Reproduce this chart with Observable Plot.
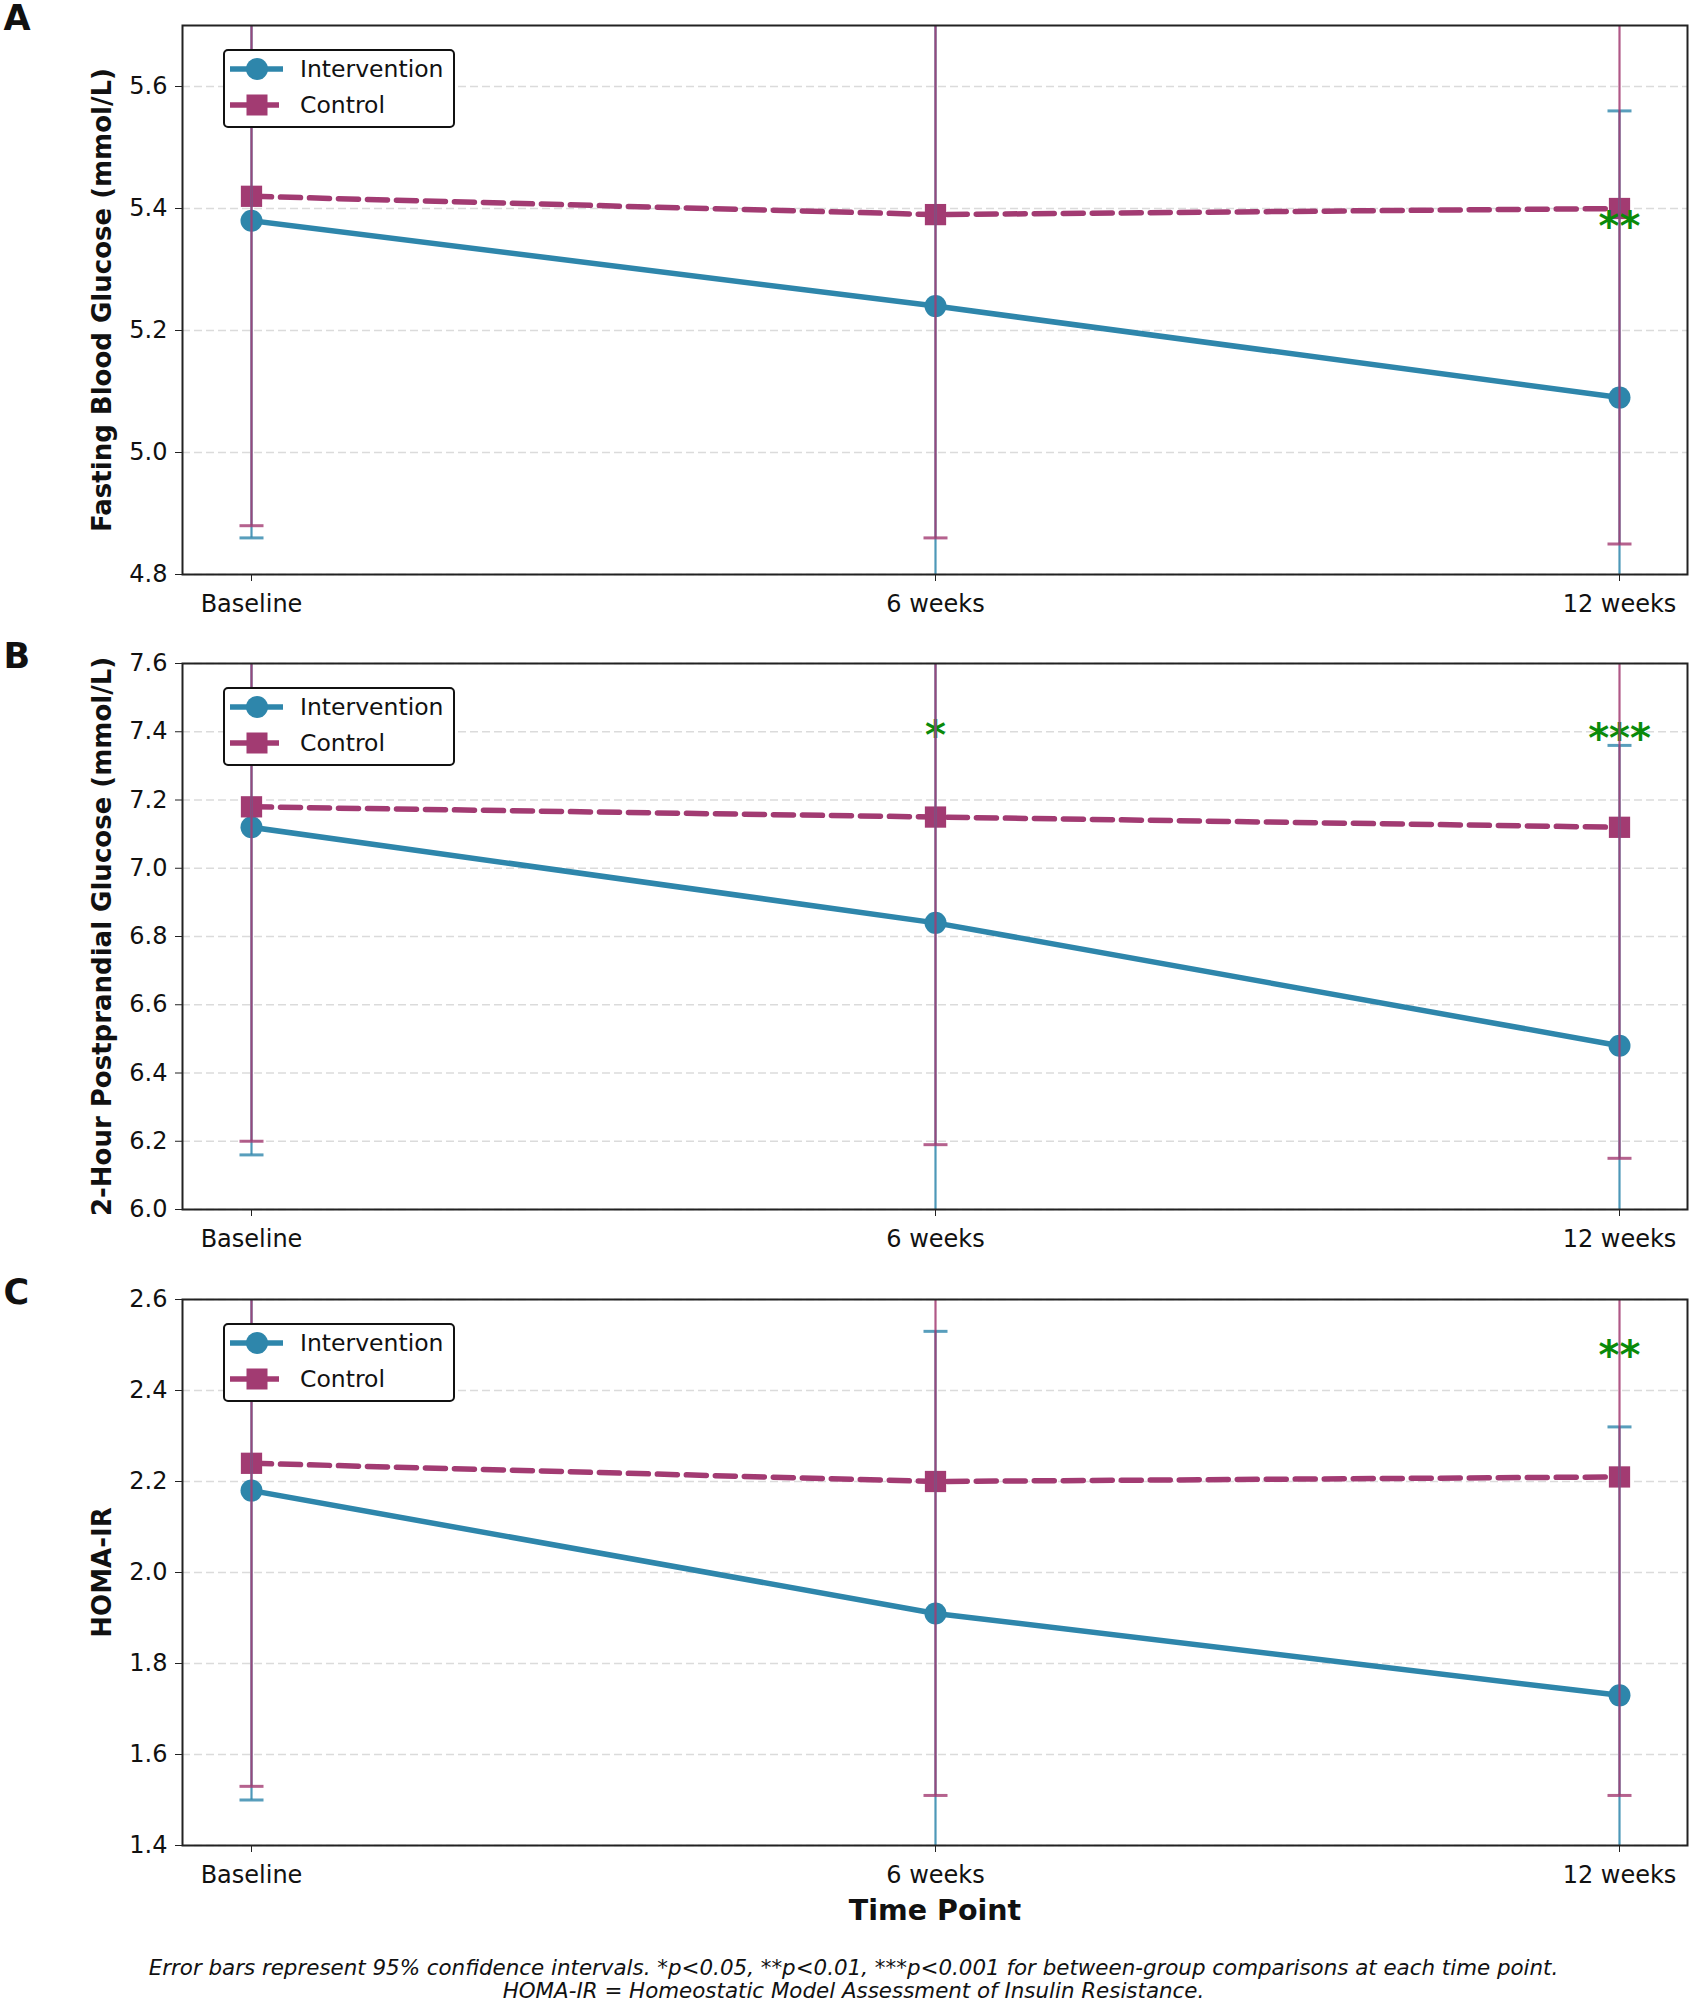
<!DOCTYPE html>
<html>
<head>
<meta charset="utf-8">
<script src="https://cdn.jsdelivr.net/npm/d3@7"></script>
<script src="https://cdn.jsdelivr.net/npm/@observablehq/plot@0.6"></script>
<style>
  body { margin: 0; background: #fff; }
  #root { position: relative; width: 1689px; height: 2000px; background: #fff; font-family: "DejaVu Sans", sans-serif; color: #111; }
  .panel { position: absolute; left: 0; }
  .legend { position: absolute; left: 223px; width: 232px; height: 79px; box-sizing: border-box; border: 2px solid #111; border-radius: 5px; background: #fff; }
  .caption { position: absolute; left: 9px; width: 1689px; top: 1956px; text-align: center; font-style: italic; font-size: 21.4px; line-height: 23px; color: #111; }
</style>
</head>
<body>
<div id="root"></div>
<script>
// ---------------- data ----------------
const timePoints = ["Baseline", "6 weeks", "12 weeks"];
const groups = ["Intervention", "Control"];

// Panel A: Fasting Blood Glucose (mmol/L)
const fbgIntervention = [5.38, 5.24, 5.09];
const fbgInterventionCI = [0.52, 0.50, 0.47];
const fbgControl = [5.42, 5.39, 5.40];
const fbgControlCI = [0.54, 0.53, 0.55];
const fbgStars = ["", "", "**"];
const fbgStarY = [null, null, 5.383];
const fbgTicks = [4.8, 5.0, 5.2, 5.4, 5.6];

// Panel B: 2-Hour Postprandial Glucose (mmol/L)
const ppgIntervention = [7.12, 6.84, 6.48];
const ppgInterventionCI = [0.96, 0.92, 0.88];
const ppgControl = [7.18, 7.15, 7.12];
const ppgControlCI = [0.98, 0.96, 0.97];
const ppgStars = ["", "*", "***"];
const ppgStarY = [null, 7.41, 7.403];
const ppgTicks = [6.0, 6.2, 6.4, 6.6, 6.8, 7.0, 7.2, 7.4, 7.6];

// Panel C: HOMA-IR
const homaIntervention = [2.18, 1.91, 1.73];
const homaInterventionCI = [0.68, 0.62, 0.59];
const homaControl = [2.24, 2.20, 2.21];
const homaControlCI = [0.71, 0.69, 0.70];
const homaStars = ["", "", "**"];
const homaStarY = [null, null, 2.493];
const homaTicks = [1.4, 1.6, 1.8, 2.0, 2.2, 2.4, 2.6];

const captionLines = [
  "Error bars represent 95% confidence intervals. *p<0.05, **p<0.01, ***p<0.001 for between-group comparisons at each time point.",
  "HOMA-IR = Homeostatic Model Assessment of Insulin Resistance."
];

// ---------------- styling ----------------
const COLORS = { Intervention: "#2E86AB", Control: "#A23B72" };
const STAR_COLOR = "#0a8a0a";
const W = 1689;
const ML = 182, MR = 2;

const capSymbol = {
  draw(ctx, size) {
    const r = Math.sqrt(size / Math.PI);
    ctx.moveTo(-r, 0);
    ctx.lineTo(r, 0);
  }
};

function rows(means, cis, group) {
  return timePoints.map((t, i) => ({ time: t, group, mean: means[i], lo: means[i] - cis[i], hi: means[i] + cis[i] }));
}

const root = document.getElementById("root");

function panel(cfg) {
  const dI = rows(cfg.int, cfg.intCI, "Intervention");
  const dC = rows(cfg.ctl, cfg.ctlCI, "Control");
  const stars = timePoints.map((t, i) => ({ time: t, label: cfg.stars[i], y: cfg.starY[i] })).filter(d => d.label);

  const marks = [
    Plot.gridY(cfg.ticks, { stroke: "#bdbdbd", strokeOpacity: 0.55, strokeWidth: 1.4, strokeDasharray: "8,4" }),
    Plot.line(dI, { x: "time", y: "mean", stroke: COLORS.Intervention, strokeWidth: 5.5 }),
    Plot.line(dC, { x: "time", y: "mean", stroke: COLORS.Control, strokeWidth: 5.5, strokeDasharray: "20,9" }),
    Plot.dot(dI, { x: "time", y: "mean", r: 11, fill: COLORS.Intervention, symbol: "circle" }),
    Plot.dot(dC, { x: "time", y: "mean", r: 12, fill: COLORS.Control, symbol: "square" }),
    Plot.text(stars, { x: "time", y: "y", text: "label", fill: STAR_COLOR, fontSize: 40, fontWeight: "bold", dy: 8 }),
  ];
  for (const [d, g] of [[dI, "Intervention"], [dC, "Control"]]) {
    marks.push(
      Plot.ruleX(d, { x: "time", y1: "lo", y2: "hi", stroke: COLORS[g], strokeWidth: 2.2, strokeOpacity: 0.85, clip: true }),
      Plot.dot(d, { x: "time", y: "lo", symbol: capSymbol, r: 12, stroke: COLORS[g], strokeWidth: 3, strokeOpacity: 0.8, clip: true }),
      Plot.dot(d, { x: "time", y: "hi", symbol: capSymbol, r: 12, stroke: COLORS[g], strokeWidth: 3, strokeOpacity: 0.8, clip: true })
    );
  }
  marks.push(
    Plot.frame({ stroke: "#222", strokeWidth: 2 }),
    Plot.axisY({ ticks: cfg.ticks, tickFormat: d3.format(".1f"), tickSize: 7, tickPadding: 8, label: null, stroke: "#222" }),
    Plot.axisX({ tickSize: 7, tickPadding: 13, label: null, stroke: "#222" }),
    Plot.text([cfg.yLabel], { text: d => d, frameAnchor: "left", textAnchor: "middle", lineAnchor: "middle", rotate: -90, dx: -80, fontWeight: "bold", fontSize: 26 }),
    Plot.text([cfg.letter], { text: d => d, frameAnchor: "top-left", dx: -(ML - 3), dy: 4, textAnchor: "start", lineAnchor: "bottom", fontWeight: "bold", fontSize: 35 })
  );
  if (cfg.xLabel) {
    marks.push(Plot.text([cfg.xLabel], { text: d => d, frameAnchor: "bottom", textAnchor: "middle", dy: 74, fontWeight: "bold", fontSize: 28.5 }));
  }

  const chart = Plot.plot({
    width: W,
    height: cfg.height,
    marginLeft: ML,
    marginRight: MR,
    marginTop: cfg.mt,
    marginBottom: cfg.mb,
    style: { fontSize: "24px", fontFamily: "DejaVu Sans", color: "#111", background: "transparent", overflow: "visible" },
    x: { type: "point", domain: timePoints, padding: 0.1 },
    y: { domain: cfg.domain },
    marks
  });
  const wrap = document.createElement("div");
  wrap.className = "panel";
  wrap.style.top = cfg.top + "px";
  wrap.appendChild(chart);
  root.appendChild(wrap);

  // legend box
  const lg = document.createElement("div");
  lg.className = "legend";
  lg.style.top = (cfg.top + cfg.mt + 24) + "px";
  root.appendChild(lg);
  const svg = d3.select(lg).append("svg").attr("width", 228).attr("height", 75).style("position", "absolute").style("left", "-2px").style("top", "-2px").style("overflow", "visible");
  groups.forEach((g, i) => {
    const cy = 20 + i * 36;
    svg.append("line").attr("x1", 7).attr("x2", 60).attr("y1", cy).attr("y2", cy)
      .attr("stroke", COLORS[g]).attr("stroke-width", 5.5).attr("stroke-dasharray", g === "Control" ? "20,9" : null);
    if (g === "Intervention") svg.append("circle").attr("cx", 34).attr("cy", cy).attr("r", 11).attr("fill", COLORS[g]);
    else svg.append("rect").attr("x", 23.5).attr("y", cy - 10.5).attr("width", 21).attr("height", 21).attr("fill", COLORS[g]);
    svg.append("text").attr("x", 77).attr("y", cy).attr("dy", "0.35em").attr("font-size", 23.5).attr("font-family", "DejaVu Sans").attr("fill", "#111").text(g);
  });
}

panel({ letter: "A", top: 0, height: 640, mt: 25, mb: 66, domain: [4.8, 5.7], ticks: fbgTicks,
  int: fbgIntervention, intCI: fbgInterventionCI, ctl: fbgControl, ctlCI: fbgControlCI,
  stars: fbgStars, starY: fbgStarY, yLabel: "Fasting Blood Glucose (mmol/L)" });
panel({ letter: "B", top: 640, height: 640, mt: 23, mb: 71, domain: [6.0, 7.6], ticks: ppgTicks,
  int: ppgIntervention, intCI: ppgInterventionCI, ctl: ppgControl, ctlCI: ppgControlCI,
  stars: ppgStars, starY: ppgStarY, yLabel: "2-Hour Postprandial Glucose (mmol/L)" });
panel({ letter: "C", top: 1280, height: 660, mt: 19, mb: 95, domain: [1.4, 2.6], ticks: homaTicks,
  int: homaIntervention, intCI: homaInterventionCI, ctl: homaControl, ctlCI: homaControlCI,
  stars: homaStars, starY: homaStarY, yLabel: "HOMA-IR", xLabel: "Time Point" });

const cap = document.createElement("div");
cap.className = "caption";
cap.innerHTML = captionLines.map(l => l.replace(/&/g, "&amp;").replace(/</g, "&lt;")).join("<br>");
root.appendChild(cap);
</script>
</body>
</html>
